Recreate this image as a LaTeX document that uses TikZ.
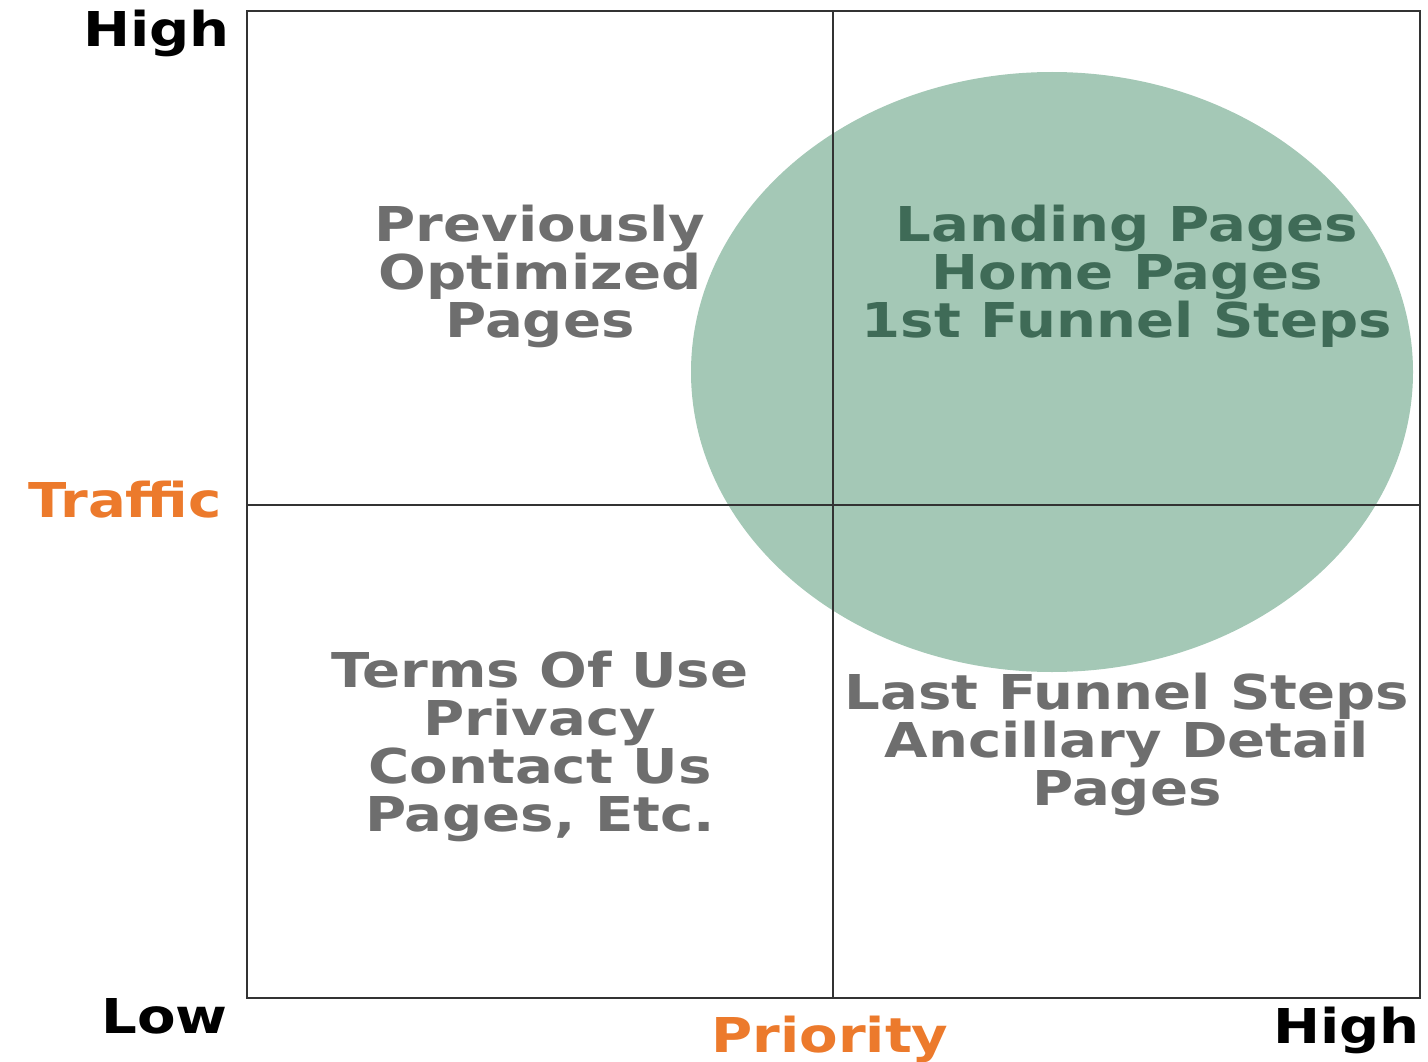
\documentclass[tikz,border=0pt]{standalone}
\usepackage{fontspec}
\newfontfamily\lblfont[FakeStretch=1.17]{DejaVu Sans Bold}
\definecolor{gridline}{HTML}{333333}
\definecolor{bubble}{HTML}{A4C8B6}
\definecolor{bubbletext}{HTML}{3F6B57}
\definecolor{quadtext}{HTML}{6E6E6E}
\definecolor{axisorange}{HTML}{EC7A2C}
\tikzset{
  lbl/.style={inner sep=0pt, font=\lblfont\fontsize{48}{48}\selectfont},
  endlbl/.style={lbl, text=black},
  axislbl/.style={lbl, text=axisorange},
  quad/.style={lbl, text=quadtext, anchor=base},
  inbubble/.style={lbl, text=bubbletext, anchor=base},
  frameline/.style={draw=gridline, line width=2pt},
}
\begin{document}
\begin{tikzpicture}[x=1pt,y=-1pt]
  \useasboundingbox (0,0) rectangle (1428,1062);

  % frame corners and midpoints
  \coordinate (nw) at (247,11);
  \coordinate (se) at (1420,998);
  \coordinate (topmid) at (833,11);
  \coordinate (botmid) at (833,998);
  \coordinate (leftmid) at (247,505);
  \coordinate (rightmid) at (1420,505);

  % high-priority bubble
  \fill[bubble] (1052,372) ellipse [x radius=361, y radius=300];

  % quadrant grid
  \draw[frameline] (nw) rectangle (se);
  \draw[frameline] (topmid) -- (botmid);
  \draw[frameline] (leftmid) -- (rightmid);

  % axis labels
  \node[endlbl, anchor=base east] (hightop) at (230,47) {High};
  \node[axislbl, anchor=base east] (traffic) at (222,517) {Traffic};
  \node[endlbl, anchor=base east] (low) at (228,1033) {Low};
  \node[axislbl, anchor=base] (priority) at (830,1052) {Priority};
  \node[endlbl, anchor=base east] (highright) at (1420,1043) {High};

  % top-left quadrant
  \node[quad] (tl1) at (540,241) {Previously};
  \node[quad] (tl2) at (540,289) {Optimized};
  \node[quad] (tl3) at (540,337) {Pages};

  % top-right quadrant
  \node[inbubble] (tr1) at (1127,241) {Landing Pages};
  \node[inbubble] (tr2) at (1127,289) {Home Pages};
  \node[inbubble] (tr3) at (1127,337) {1st Funnel Steps};

  % bottom-left quadrant
  \node[quad] (bl1) at (540,687) {Terms Of Use};
  \node[quad] (bl2) at (540,735) {Privacy};
  \node[quad] (bl3) at (540,783) {Contact Us};
  \node[quad] (bl4) at (540,831) {Pages, Etc.};

  % bottom-right quadrant
  \node[quad] (br1) at (1127,709) {Last Funnel Steps};
  \node[quad] (br2) at (1127,757) {Ancillary Detail};
  \node[quad] (br3) at (1127,805) {Pages};
\end{tikzpicture}
\end{document}
